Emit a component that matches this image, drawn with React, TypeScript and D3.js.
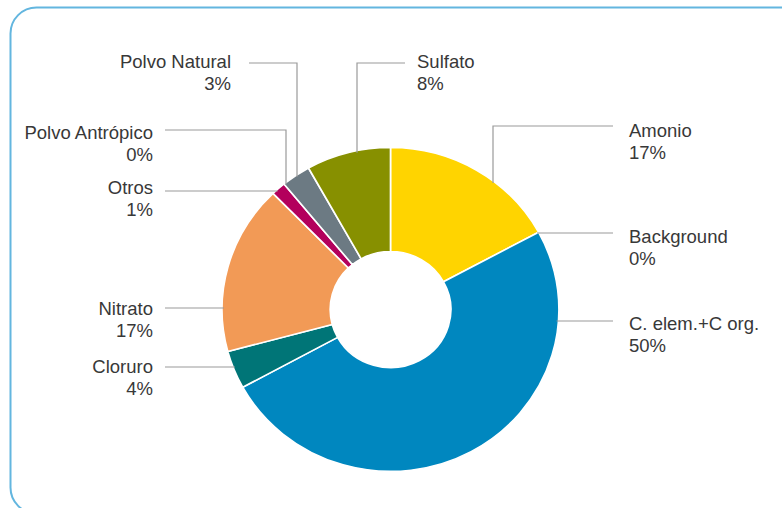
import { useEffect, useRef } from 'react';
import * as d3 from 'd3';

// slice data, clockwise from 12 o'clock
const categories = [
  "Amonio",
  "Background",
  "C. elem.+C org.",
  "Cloruro",
  "Nitrato",
  "Otros",
  "Polvo Antrópico",
  "Polvo Natural",
  "Sulfato",
];
const values = [17.1, 0, 50.0, 3.8, 16.9, 1.4, 0, 2.8, 8.1];
const colors = [
  "#ffd400",
  "#cccccc",
  "#0087bf",
  "#007577",
  "#f29a56",
  "#b3005c",
  "#999999",
  "#6c7a83",
  "#879000",
];

// label placement (same order as categories)
const labelLayout = [
  { tx: 629, ty: 137, anchor: "start", lx: 613, ly: 126, elbowX: 493 },
  { tx: 629, ty: 243, anchor: "start", lx: 613, ly: 233 },
  { tx: 629, ty: 330, anchor: "start", lx: 613, ly: 321 },
  { tx: 153, ty: 373, anchor: "end", lx: 165, ly: 367 },
  { tx: 153, ty: 315, anchor: "end", lx: 165, ly: 308 },
  { tx: 153, ty: 194, anchor: "end", lx: 165, ly: 191 },
  { tx: 153, ty: 139, anchor: "end", lx: 165, ly: 130, elbowX: 286 },
  { tx: 231, ty: 68, anchor: "end", lx: 249, ly: 63, elbowX: 297 },
  { tx: 417, ty: 68, anchor: "start", lx: 405, ly: 63, elbowX: 357 },
];

const W = 782;
const H = 508;
const cx = 390.5;
const cy = 309.5;
const R = 162;
const r0 = 58;
const sx = 1.04;

export default function App() {
  const svgRef = useRef<SVGSVGElement>(null);

  useEffect(() => {
    if (!svgRef.current) return;
    const svg = d3.select(svgRef.current);
    svg.selectAll("*").remove();

    // frame
    svg.append("rect")
      .attr("x", 10.5)
      .attr("y", 7.5)
      .attr("width", 820)
      .attr("height", 506)
      .attr("rx", 26)
      .attr("fill", "none")
      .attr("stroke", "#63b6df")
      .attr("stroke-width", 2);

    const total = d3.sum(values);
    const pie = d3.pie<number>().sort(null).value((d) => d);
    const arcs = pie(values);
    const arc = d3.arc<d3.PieArcDatum<number>>().innerRadius(r0).outerRadius(R);

    const g = svg.append("g")
      .attr("transform", `translate(${cx},${cy}) scale(${sx},1)`);

    g.selectAll("path")
      .data(arcs.filter((a) => a.value > 0))
      .join("path")
      .attr("d", arc)
      .attr("fill", (d) => colors[d.index])
      .attr("stroke", "#fff")
      .attr("stroke-width", 1.6)
      .attr("stroke-linejoin", "round");

    // where a leader line meets the outer edge
    const edgeX = (y: number, side: number) =>
      cx + side * Math.sqrt(Math.max(0, R * R - (y - cy) ** 2)) * sx;
    const edgeYTop = (x: number) =>
      cy - Math.sqrt(Math.max(0, R * R - ((x - cx) / sx) ** 2));

    const leaders = svg.append("g")
      .attr("fill", "none")
      .attr("stroke", "#9a9a9a")
      .attr("stroke-width", 1.2);

    labelLayout.forEach((l, i) => {
      const side = l.anchor === "start" ? 1 : -1;
      let pts: [number, number][];
      if (l.elbowX !== undefined) {
        pts = [[l.lx, l.ly], [l.elbowX, l.ly], [l.elbowX, edgeYTop(l.elbowX) + 2]];
      } else {
        pts = [[l.lx, l.ly], [edgeX(l.ly, side) - side * 2, l.ly]];
      }
      leaders.append("path").attr("d", d3.line()(pts));

      const t = svg.append("text")
        .attr("x", l.tx)
        .attr("y", l.ty)
        .attr("text-anchor", l.anchor)
        .attr("fill", "#383838")
        .attr("font-size", "18.5px")
        .attr("font-family", "Liberation Sans, Arial, sans-serif");
      t.append("tspan").attr("x", l.tx).text(categories[i]);
      t.append("tspan")
        .attr("x", l.tx)
        .attr("dy", 22)
        .text(`${Math.round((values[i] / total) * 100)}%`);
    });
  }, []);

  return (
    <svg
      ref={svgRef}
      width={W}
      height={H}
      style={{ position: "absolute", left: 0, top: 0, background: "#fff" }}
    />
  );
}
